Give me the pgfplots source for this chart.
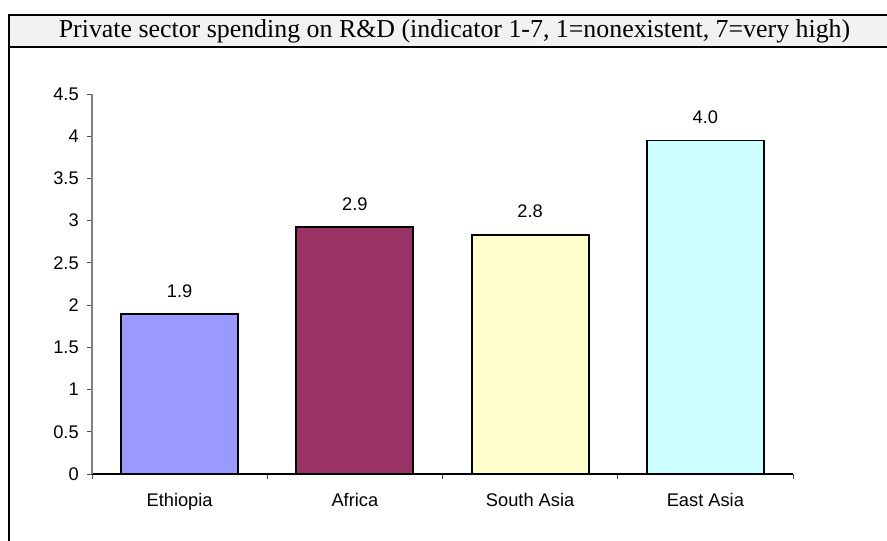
\documentclass[border=0pt]{standalone}
\usepackage{pgfplots}
\pgfplotsset{compat=1.18}
\usepackage{fontspec}
\setmainfont{Liberation Sans}
\newfontfamily\titlefont{Liberation Serif}
\definecolor{cEth}{HTML}{9999FF}
\definecolor{cAfr}{HTML}{993366}
\definecolor{cSA}{HTML}{FFFFCC}
\definecolor{cEA}{HTML}{CCFFFF}
\definecolor{titlegray}{HTML}{F2F2F2}
\newcommand{\lblfont}{\fontsize{13.7}{16}\selectfont}
\begin{document}
\begin{tikzpicture}[x=0.75pt,y=-0.75pt]
\useasboundingbox (0,0) rectangle (887,540);
\clip (0,0) rectangle (887,540);
\filldraw[fill=titlegray, draw=black, line width=1.5pt] (9,14.7) rectangle (910,46.7);
\draw[line width=1.5pt] (9,46.7) -- (9,560);
\node[anchor=base, inner sep=0pt, font=\titlefont\fontsize{19.4}{22}\selectfont] at (454.5,37.7)
  {Private sector spending on R\&D (indicator 1-7, 1=nonexistent, 7=very high)};
\begin{axis}[
  at={(69pt,-355.5pt)}, anchor=south west,
  scale only axis, width=525.75pt, height=285pt,
  xmin=-0.5, xmax=3.5, ymin=0, ymax=4.5,
  axis x line*=bottom, axis y line*=left,
  x axis line style={black, line width=1.1pt, -},
  y axis line style={black!50, line width=0.9pt, -},
  ytick={0,0.5,1,1.5,2,2.5,3,3.5,4,4.5},
  xtick={0,1,2,3},
  xticklabels={Ethiopia,Africa,South Asia,East Asia},
  minor xtick={-0.5,0.5,1.5,2.5,3.5},
  tick align=outside,
  major tick length=3.75pt, minor tick length=3.75pt,
  major x tick style={draw=none},
  minor x tick style={black!70, line width=0.75pt},
  y tick style={black!70, line width=0.75pt},
  /pgf/number format/assume math mode=true,
  ticklabel style={font=\lblfont},
  yticklabel style={anchor=east, inner sep=0pt, xshift=-6pt},
  xticklabel style={anchor=north, inner sep=0pt, yshift=-10.5pt},
  ybar, bar width=87.75pt, bar shift=0pt,
  point meta=explicit symbolic,
  nodes near coords,
  nodes near coords style={font=\lblfont, anchor=south, inner sep=0pt, yshift=12pt},
  every axis plot/.append style={draw=black, line width=1.4pt},
]
\addplot[fill=cEth] coordinates {(0,1.89) [1.9]};
\addplot[fill=cAfr] coordinates {(1,2.92) [2.9]};
\addplot[fill=cSA] coordinates {(2,2.83) [2.8]};
\addplot[fill=cEA] coordinates {(3,3.95) [4.0]};
\end{axis}
\end{tikzpicture}
\end{document}
